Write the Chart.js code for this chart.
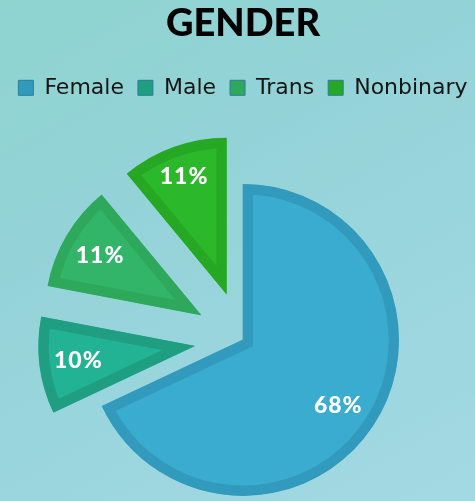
<!DOCTYPE html>
<html>
<head>
<meta charset="utf-8">
<script src="https://cdn.jsdelivr.net/npm/chart.js@4.4.1/dist/chart.umd.min.js"></script>
<style>
  html, body { margin: 0; padding: 0; }
  #wrap {
    position: relative; width: 475px; height: 501px; overflow: hidden;
    background: linear-gradient(150deg, #8fd4cf 0%, #93d3d8 35%, #9cd6de 70%, #a3d9e3 100%);
  }
  #box { position: absolute; left: 0; top: 0; width: 486px; height: 581px; }
</style>
</head>
<body>
<div id="wrap"><div id="box"><canvas id="c"></canvas></div></div>
<script>
// ---- data ----
const categories = ['Female', 'Male', 'Trans', 'Nonbinary'];
const values = [68, 10, 11, 11];
const valueLabels = ['68%', '10%', '11%', '11%'];

// ---- styles ----
const fillColors = ['#39acd0', '#22b394', '#33b569', '#2cb82b'];
const borderColors = ['#329bbd', '#1f9e81', '#2ea95c', '#27a825'];
const explodeDist = [0, 49, 49, 49];
const labelFrac = [0.74, 0.75, 0.75, 0.80];

const explodePlugin = {
  id: 'explode',
  afterDatasetUpdate(chart, args) {
    const meta = args.meta;
    meta.data.forEach((arc, i) => {
      const d = explodeDist[i] || 0;
      const mid = (arc.startAngle + arc.endAngle) / 2;
      arc.x += Math.cos(mid) * d;
      arc.y += Math.sin(mid) * d;
    });
  }
};

const labelPlugin = {
  id: 'sliceLabels',
  afterDatasetsDraw(chart) {
    const ctx = chart.ctx;
    const meta = chart.getDatasetMeta(0);
    ctx.save();
    ctx.font = '900 23px Lato';
    ctx.fillStyle = '#ffffff';
    ctx.textAlign = 'center';
    ctx.textBaseline = 'middle';
    if ('letterSpacing' in ctx) ctx.letterSpacing = '1px';
    meta.data.forEach((arc, i) => {
      const mid = (arc.startAngle + arc.endAngle) / 2 + (i === 0 ? 0.035 : 0);
      const r = arc.outerRadius * labelFrac[i];
      ctx.fillText(valueLabels[i], arc.x + Math.cos(mid) * r, arc.y + Math.sin(mid) * r);
    });
    ctx.restore();
  }
};

new Chart(document.getElementById('c'), {
  type: 'pie',
  data: {
    labels: categories,
    datasets: [{
      data: values,
      backgroundColor: fillColors,
      borderColor: borderColors,
      borderWidth: 10,
      borderAlign: 'inner',
      borderJoinStyle: 'miter'
    }]
  },
  options: {
    responsive: true,
    maintainAspectRatio: false,
    animation: false,
    events: [],
    radius: 156,
    layout: { padding: { bottom: 10 } },
    plugins: {
      tooltip: { enabled: false },
      title: {
        display: true,
        text: 'GENDER',
        color: '#000000',
        font: { family: 'Lato', size: 38, weight: '900', lineHeight: 1.1 },
        padding: { top: 3, bottom: 18 }
      },
      legend: {
        display: true,
        position: 'top',
        labels: {
          color: '#151515',
          font: { family: 'DejaVu Sans', size: 22 },
          boxWidth: 15,
          boxHeight: 15,
          padding: 14,
          generateLabels(chart) {
            return categories.map((c, i) => ({
              text: c,
              fillStyle: borderColors[i],
              strokeStyle: '#2a7f95',
              lineWidth: 1,
              hidden: false,
              index: i,
              fontColor: '#151515'
            }));
          }
        }
      }
    }
  },
  plugins: [explodePlugin, labelPlugin]
});
</script>
</body>
</html>
